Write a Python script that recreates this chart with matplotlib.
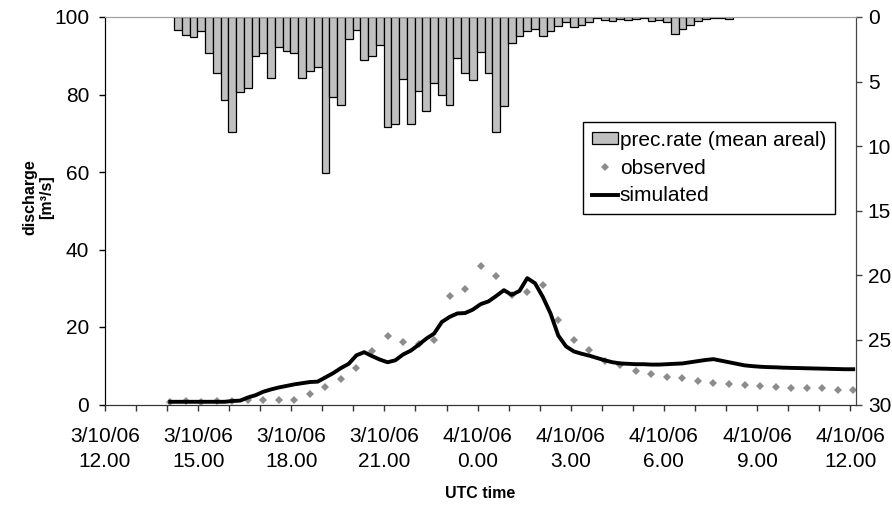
import numpy as np
import matplotlib
matplotlib.use("Agg")
import matplotlib.pyplot as plt

plt.rcParams['font.family'] = ['Liberation Sans', 'DejaVu Sans']

# -----------------------------
# data (hours after 3/10/06 12.00 UTC)
# -----------------------------
tick_labels = ["3/10/06\n12.00", "3/10/06\n15.00", "3/10/06\n18.00",
               "3/10/06\n21.00", "4/10/06\n0.00", "4/10/06\n3.00",
               "4/10/06\n6.00", "4/10/06\n9.00", "4/10/06\n12.00"]

# mean areal precipitation rate, 15 min steps from 14.15
prec_start = 2.35
prec = [1.0, 1.4, 1.55, 1.05, 2.8, 4.3, 6.4, 8.9, 5.8, 5.5,
        3.0, 2.8, 4.7, 2.3, 2.6, 2.75, 4.7, 4.2, 3.9, 12.1,
        6.2, 6.8, 1.7, 1.0, 3.3, 3.0, 2.2, 8.5, 8.3, 4.8,
        8.25, 5.7, 7.3, 5.1, 6.0, 6.8, 3.2, 4.35, 4.9, 2.7,
        4.35, 8.9, 6.9, 2.0, 1.5, 1.1, 0.93, 1.45, 1.1, 0.7,
        0.4, 0.8, 0.6, 0.36, 0.05, 0.25, 0.3, 0.15, 0.25, 0.15,
        0.05, 0.3, 0.2, 0.4, 1.35, 0.95, 0.6, 0.3, 0.15, 0.05,
        0.1, 0.15]

# observed discharge, 30 min steps
obs_start = 2.1
observed = [0.6, 0.8, 0.7, 0.9, 1.0, 1.1, 1.1, 1.1, 1.1, 2.8,
            4.5, 6.7, 9.4, 13.8, 17.8, 16.2, 15.7, 16.7, 27.9, 29.8,
            35.8, 33.1, 28.3, 29.0, 30.9, 21.8, 16.6, 14.0, 11.1, 10.3,
            8.6, 7.9, 7.1, 6.8, 6.0, 5.5, 5.3, 5.0, 4.8, 4.5,
            4.3, 4.2, 4.2, 3.8, 3.8]

# simulated discharge, 15 min steps
sim_start = 2.1
simulated = [0.7, 0.7, 0.7, 0.7, 0.7, 0.7, 0.7, 0.7, 0.9, 1.0,
             1.8, 2.4, 3.3, 3.9, 4.4, 4.8, 5.2, 5.5, 5.8, 5.9,
             7.0, 8.1, 9.4, 10.5, 12.7, 13.5, 12.5, 11.6, 10.9, 11.4,
             12.9, 13.9, 15.4, 17.0, 18.3, 21.3, 22.6, 23.5, 23.6, 24.5,
             25.9, 26.6, 28.0, 29.5, 28.3, 29.3, 32.6, 31.3, 27.8, 23.5,
             17.8, 15.0, 13.7, 13.1, 12.6, 12.0, 11.4, 10.9, 10.6, 10.5,
             10.4, 10.4, 10.3, 10.3, 10.4, 10.5, 10.6, 10.9, 11.2, 11.5,
             11.7, 11.3, 10.9, 10.5, 10.1, 9.9, 9.75, 9.65, 9.6, 9.5,
             9.45, 9.4, 9.35, 9.3, 9.25, 9.2, 9.15, 9.1, 9.1]

t_prec = prec_start + 0.25 * np.arange(len(prec))
t_obs = obs_start + 0.5 * np.arange(len(observed))
t_sim = sim_start + 0.25 * np.arange(len(simulated))

# -----------------------------
# figure
# -----------------------------
W, H = 892, 507
FS = 15
fig = plt.figure(figsize=(W / 100, H / 100), dpi=100)
ax = fig.add_axes([105 / W, 1 - 404.5 / H, 751 / W, 387.5 / H])
ax2 = ax.twinx()

obs_line, = ax.plot(t_obs, observed, linestyle="none", marker="D",
                    markersize=3.8, color="#8c8c8c", markeredgewidth=0)
sim_line, = ax.plot(t_sim, simulated, color="black", linewidth=2.8,
                    solid_joinstyle="round")

bars = ax2.bar(t_prec, prec, width=0.25, color="#c0c0c0",
               edgecolor="black", linewidth=0.9)

ax.set_xlim(0, 24.19)
ax.set_ylim(0, 100)
ax2.set_ylim(30, 0)

ax.set_xticks(np.arange(0, 25, 3))
ax.set_xticklabels(tick_labels)
ax.set_xticks(np.arange(0, 25, 1), minor=True)
ax.set_yticks(np.arange(0, 101, 20))
ax2.set_yticks(np.arange(0, 31, 5))

for lbl in ax.get_xticklabels():
    lbl.set_linespacing(1.36)

ax.tick_params(axis="x", which="both", direction="out", length=4,
               width=1, color="#333333", labelsize=FS, pad=12.5)
ax.tick_params(axis="y", direction="out", length=4.5, width=1,
               labelsize=FS, pad=7)
ax2.tick_params(axis="y", direction="out", length=4, width=1,
                color="#444444", labelsize=FS, pad=4.5)

for a in (ax, ax2):
    a.spines["left"].set_color("black")
    a.spines["bottom"].set_color("#333333")
    a.spines["right"].set_color("#444444")
    a.spines["top"].set_color("#a0a0a0")

fig.text(38 / W, 1 - 197 / H, "discharge\n[m³/s]", rotation=90,
         ha="center", va="center", fontsize=11.5, fontweight="bold",
         multialignment="center", linespacing=1.15)
fig.text(480 / W, 1 - 493 / H, "UTC time", ha="center", va="center",
         fontsize=11.5, fontweight="bold")

leg = ax2.legend([bars, obs_line, sim_line],
                 ["prec.rate (mean areal)", "observed", "simulated"],
                 loc="upper left", bbox_to_anchor=(583 / W, 1 - 122 / H),
                 bbox_transform=fig.transFigure, borderaxespad=0,
                 fancybox=False, edgecolor="black", framealpha=1,
                 fontsize=FS, borderpad=0.42, labelspacing=0.42,
                 handlelength=1.25, handleheight=0.5, handletextpad=0.1)
leg.get_frame().set_linewidth(1.0)

fig.savefig("out.png", dpi=100)
